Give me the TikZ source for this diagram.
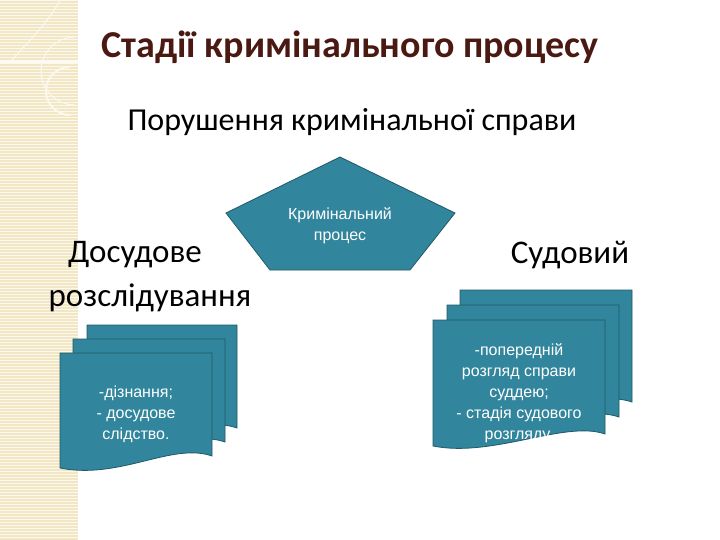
\documentclass[tikz,border=0pt]{standalone}
\usepackage{fontspec}
\setmainfont{Carlito}
\newfontfamily\arialf{Liberation Sans}
\definecolor{teal1}{HTML}{31859C}
\definecolor{tealb}{HTML}{215968}
\definecolor{beige}{HTML}{F3E6C4}
\definecolor{titlec}{HTML}{4A1A12}
\tikzset{
 docsh/.style={fill=teal1,draw=tealb,line width=0.8pt},
 boxtxt/.style={text=white,font=\arialf\fontsize{16}{21}\selectfont,align=center},
 big/.style={font=\fontsize{33}{38}\selectfont}
}
\newcommand{\docshape}[4]{% x0 y0 x1 y1
 \draw[docsh] (#1,#2) -- (#3,#2) -- (#3,#4-6) .. controls (#3-40,#4-20) and (#1+60,#4+18) .. (#1,#4+6) -- cycle;}
\begin{document}
\begin{tikzpicture}[x=1pt,y=-1pt]
\useasboundingbox (0,0) rectangle (720,540);
\fill[white] (0,0) rectangle (720,540);
\fill[beige] (0,0) rectangle (78,540);
\foreach \i in {0,3,...,540} \draw[white!70!beige,line width=0.5pt] (0,\i) -- (78,\i);
\draw[white!80!beige,line width=1.2pt] (0,62) -- (78,62);
\draw[white!70!beige,line width=2pt] (70,115) arc (90:270:24);
\draw[white!75!beige,line width=1pt] (75,105) arc (90:270:34);
\draw[white!75!beige,line width=1pt] (12,60) .. controls (30,40) and (50,20) .. (60,0);
\node[font=\bfseries\fontsize{38}{44}\selectfont,text=titlec] (title) at (350,47) {Стадії кримінального процесу};
\node[font=\fontsize{32}{38}\selectfont] (sub) at (352,122) {Порушення кримінальної справи};
\node[big] (dos) at (135,255) {Досудове};
\node[big] (roz) at (150,298) {розслідування};
\node[big] (sud) at (570,255) {Судовий};
\draw[docsh] (340,157) -- (455,213) -- (410,270) -- (270,270) -- (226,213) -- cycle;
\node[boxtxt] (krim) at (340,226) {Кримінальний\\процес};
\docshape{87}{325}{237}{434}
\docshape{73}{339}{225}{448}
\docshape{60}{353}{212}{462}
\node[boxtxt] (left) at (136,414) {-дізнання;\\- досудове\\слідство.};
\docshape{460}{290}{632}{408}
\docshape{447}{305}{619}{423}
\docshape{433}{320}{605}{440}
\node[boxtxt] (right) at (519,393) {-попередній\\розгляд справи\\суддею;\\- стадія судового\\розгляду.};
\end{tikzpicture}
\end{document}
